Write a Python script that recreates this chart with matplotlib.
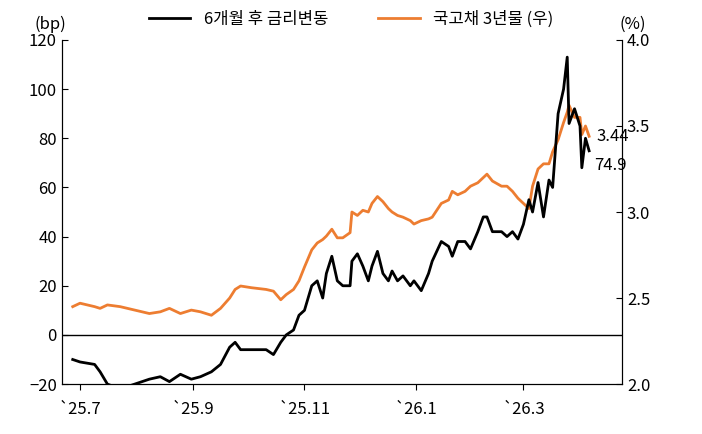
import matplotlib.pyplot as plt
import matplotlib.dates as mdates
import pandas as pd

plt.rcParams['font.family'] = ['Noto Sans CJK KR', 'DejaVu Sans']

dates = ["2025-06-27", "2025-07-01", "2025-07-09", "2025-07-12", "2025-07-16", "2025-07-23",
         "2025-08-08", "2025-08-14", "2025-08-19", "2025-08-25", "2025-08-31", "2025-09-05",
         "2025-09-11", "2025-09-16", "2025-09-21", "2025-09-24", "2025-09-27", "2025-10-03",
         "2025-10-11", "2025-10-15", "2025-10-19", "2025-10-22", "2025-10-26", "2025-10-29",
         "2025-11-01", "2025-11-05", "2025-11-08", "2025-11-11", "2025-11-13", "2025-11-16",
         "2025-11-19", "2025-11-22", "2025-11-26", "2025-11-27", "2025-11-30", "2025-12-03",
         "2025-12-06", "2025-12-08", "2025-12-11", "2025-12-14", "2025-12-17", "2025-12-19",
         "2025-12-22", "2025-12-25", "2025-12-29", "2025-12-31", "2026-01-04", "2026-01-08",
         "2026-01-10", "2026-01-15", "2026-01-19", "2026-01-21", "2026-01-24", "2026-01-28",
         "2026-01-31", "2026-02-04", "2026-02-07", "2026-02-09", "2026-02-12", "2026-02-17",
         "2026-02-20", "2026-02-23", "2026-02-26", "2026-03-01", "2026-03-04", "2026-03-06",
         "2026-03-09", "2026-03-12", "2026-03-15", "2026-03-17", "2026-03-20", "2026-03-23",
         "2026-03-25", "2026-03-26", "2026-03-29", "2026-04-01", "2026-04-02", "2026-04-04",
         "2026-04-06"]

change_6m = [-10, -11, -12, -15, -20, -22, -18, -17, -19, -16, -18, -17,
             -15, -12, -5, -3, -6, -6, -6, -8, -3, 0, 2, 8,
             10, 20, 22, 15, 25, 32, 22, 20, 20, 30, 33, 28,
             22, 28, 34, 25, 22, 26, 22, 24, 20, 22, 18, 25,
             30, 38, 36, 32, 38, 38, 35, 42, 48, 48, 42, 42,
             40, 42, 39, 45, 55, 50, 62, 48, 63, 60, 90, 100,
             113, 86, 92, 85, 68, 80, 74.9]

ktb_3y = [2.45, 2.47, 2.45, 2.44, 2.46, 2.45, 2.41, 2.42, 2.44, 2.41, 2.43, 2.42,
          2.40, 2.44, 2.50, 2.55, 2.57, 2.56, 2.55, 2.54, 2.49, 2.52, 2.55, 2.60,
          2.68, 2.78, 2.82, 2.84, 2.86, 2.90, 2.85, 2.85, 2.88, 3.00, 2.98, 3.01,
          3.00, 3.05, 3.09, 3.06, 3.02, 3.00, 2.98, 2.97, 2.95, 2.93, 2.95, 2.96,
          2.97, 3.05, 3.07, 3.12, 3.10, 3.12, 3.15, 3.17, 3.20, 3.22, 3.18, 3.15,
          3.15, 3.12, 3.08, 3.05, 3.02, 3.15, 3.25, 3.28, 3.28, 3.35, 3.42, 3.52,
          3.58, 3.62, 3.55, 3.55, 3.45, 3.50, 3.44]

tick_dates = ["2025-07-01", "2025-09-01", "2025-11-01", "2026-01-01", "2026-03-01"]
tick_labels = ["`25.7", "`25.9", "`25.11", "`26.1", "`26.3"]

x = pd.to_datetime(dates)
orange = "#ED7D31"

fig = plt.figure(figsize=(7.02, 4.34), dpi=100)
ax = fig.add_axes([0.088, 0.115, 0.798, 0.793])
ax2 = ax.twinx()

ax2.plot(x, ktb_3y, color=orange, lw=2, label="국고채 3년물 (우)")
ax.plot(x, change_6m, color="black", lw=2, label="6개월 후 금리변동", zorder=3)
ax.set_zorder(ax2.get_zorder() + 1)
ax.patch.set_visible(False)
ax.axhline(0, color="black", lw=1)

ax.set_ylim(-20, 120)
ax.set_yticks(range(-20, 121, 20))
ax2.set_ylim(2.0, 4.0)
ax2.set_yticks([2.0, 2.5, 3.0, 3.5, 4.0])
ax2.yaxis.set_major_formatter(plt.FuncFormatter(lambda v, _: f"{v:.1f}"))
ax.set_xlim(pd.Timestamp("2025-06-21"), pd.Timestamp("2026-04-24"))
ax.set_xticks(pd.to_datetime(tick_dates))
ax.set_xticklabels(tick_labels)

for a in (ax, ax2):
    a.spines['top'].set_visible(False)
    a.tick_params(labelsize=12, direction="in", length=4)
ax.tick_params(axis="x", direction="out", pad=8)

ax.text(-0.02, 1.02, "(bp)", transform=ax.transAxes, ha="center", va="bottom", fontsize=12)
ax2.text(1.02, 1.02, "(%)", transform=ax.transAxes, ha="center", va="bottom", fontsize=12)
ax.text(x[-1] + pd.Timedelta(days=3), change_6m[-1] - 6, "74.9", fontsize=12, va="center")
ax2.text(x[-1] + pd.Timedelta(days=4), ktb_3y[-1], "3.44", fontsize=12, va="center")

h1, l1 = ax.get_legend_handles_labels()
h2, l2 = ax2.get_legend_handles_labels()
fig.legend(h1 + h2, l1 + l2, loc="upper center", bbox_to_anchor=(0.5, 1.01), ncol=2,
           frameon=False, fontsize=12, columnspacing=3, handlelength=2.5)

fig.savefig("out.png", dpi=100)
